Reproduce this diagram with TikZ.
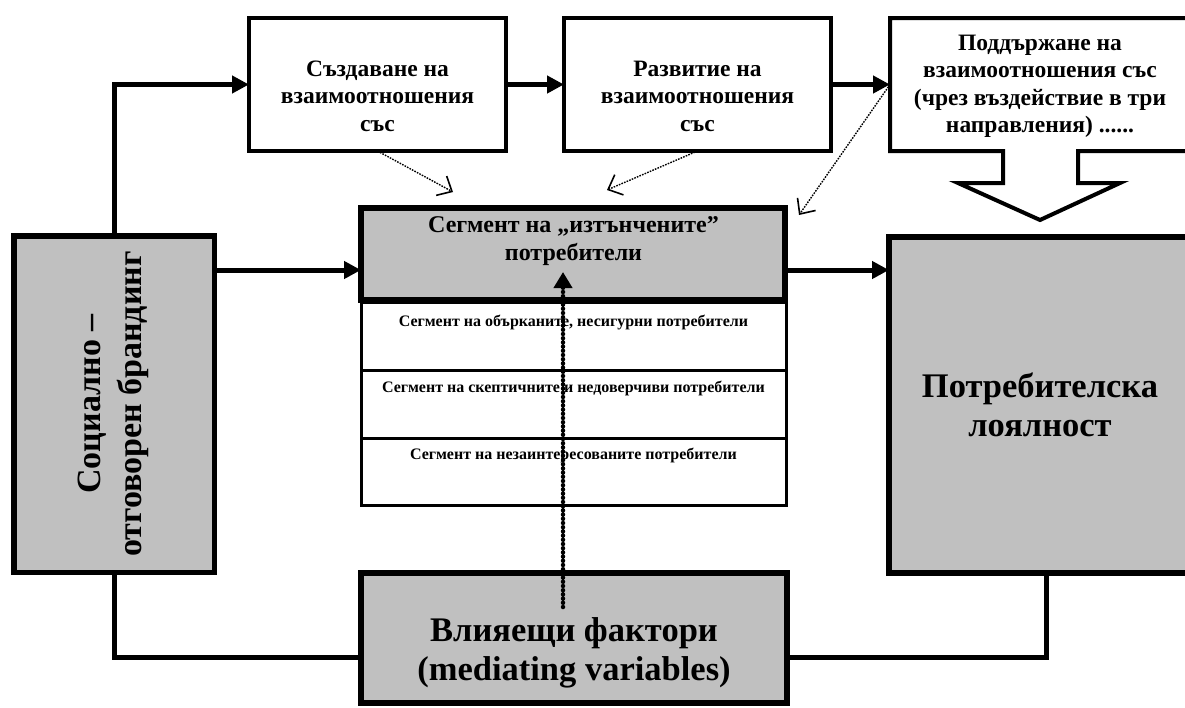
\documentclass[tikz,border=0pt]{standalone}
\usepackage{fontspec}
\setmainfont{Liberation Serif}
\usetikzlibrary{arrows.meta}
\definecolor{boxgray}{HTML}{C0C0C0}
\begin{document}
\begin{tikzpicture}[x=1pt,y=-1pt,
  every node/.style={inner sep=0pt, outer sep=0pt},
  topbox/.style={draw, line width=4pt, fill=white, minimum height=133pt},
  graybox/.style={draw, line width=5.5pt, fill=boxgray},
  rowbox/.style={draw, line width=3pt, fill=white, minimum width=425pt},
  toptext/.style={align=center, font=\bfseries\fontsize{23.5}{27.5}\selectfont},
  segtext/.style={align=center, font=\bfseries\fontsize{24}{28}\selectfont},
  rowtext/.style={font=\bfseries\fontsize{16}{18}\selectfont},
  bigtext/.style={align=center, font=\bfseries\fontsize{34.5}{39}\selectfont},
  conn/.style={line width=5pt, -{Triangle[length=17pt,width=17pt]}},
  plainconn/.style={line width=5pt},
  thindot/.style={line width=1.4pt, dash pattern=on 1.6pt off 1.2pt, -{Straight Barb[length=12pt,width=22pt,line width=1.6pt]}},
  thickdot/.style={line width=4.5pt, line cap=round, dash pattern=on 0pt off 4.2pt, -{Triangle[length=16pt,width=18pt]}}
]
\path[use as bounding box] (0,0) rectangle (1185,707);
\clip (0,0) rectangle (1185,707);

% top row
\node[topbox, minimum width=257pt] (b1) at (377.5,84.5) {};
\node[toptext] (b1t) at (377.5,96) {Създаване на\\взаимоотношения\\със};
\node[topbox, minimum width=267pt] (b2) at (697.5,84.5) {};
\node[toptext] (b2t) at (697.5,96) {Развитие на\\взаимоотношения\\със};
\node[topbox, draw=none, fill=none, minimum width=300pt] (b3) at (1040,84.5) {};
\node[toptext] (b3t) at (1040,86.5)
  {Поддържане на\\взаимоотношения със\\(чрез въздействие в три\\направления) ......};
\draw[line width=4pt, line join=miter] (1003,151) -- (b3.south west) -- (b3.north west)
  -- (b3.north east) -- (b3.south east) -- (1078,151) -- (1078,183) -- (1120,183)
  -- (1040,220) -- (958,183) -- (1003,183) -- cycle;

% segment rows
\node[rowbox, minimum height=68pt] (r1) at (573.5,336) {};
\node[rowbox, minimum height=68pt] (r2) at (573.5,404) {};
\node[rowbox, minimum height=67pt] (r3) at (573.5,471.5) {};
\node[rowtext] (r1t) at (573.5,322) {Сегмент на обърканите, несигурни потребители};
\node[rowtext] (r2t) at (573.5,388) {Сегмент на скептичните и недоверчиви потребители};
\node[rowtext] (r3t) at (573.5,455) {Сегмент на незаинтересованите потребители};

% gray boxes
\node[graybox, minimum width=424pt, minimum height=92pt] (seg) at (573,254) {};
\node[segtext] (segt) at (573.5,241) {Сегмент на „изтънчените”\\потребители};
\node[graybox, minimum width=200.5pt, minimum height=336.5pt] (left) at (114,404) {};
\node[rotate=90, align=center, font=\bfseries\fontsize{34}{41}\selectfont] (leftt) at (113,404) {Социално –\\отговорен брандинг};
\node[graybox, bigtext, minimum width=302pt, minimum height=336pt] (right) at (1040,405) {Потребителска\\лоялност};
\node[graybox, minimum width=426pt, minimum height=130pt] (bot) at (574,638) {};
\node[align=center, font=\bfseries\fontsize{34.5}{38.5}\selectfont] (bott) at (574,653) {Влияещи фактори\\(mediating variables)};

% connectors
\coordinate (midy) at (0,270);
\coordinate (loopy) at (0,657);
\draw[conn] (left.north) |- (b1.west);
\draw[conn] (b1.east) -- (b2.west);
\draw[conn] (b2.east) -- (b3.west);
\draw[conn] (left.east |- midy) -- (seg.west |- midy);
\draw[conn] (seg.east |- midy) -- (right.west |- midy);
\draw[plainconn] (left.south) |- (bot.west |- loopy);
\draw[plainconn] (bot.east |- loopy) -| ([xshift=6pt]right.south);

% dotted arrows
\coordinate (t1) at (453,192);
\coordinate (t2) at (607,190);
\coordinate (t3) at (799,215);
\draw[thindot] (b1.south) -- (t1);
\draw[thindot] (b2.south) -- (t2);
\draw[thindot] (b3.west) -- (t3);
\coordinate (dotstart) at (563,607);
\coordinate (dotend) at (563,272);
\draw[thickdot] (dotstart) -- (dotend);
\end{tikzpicture}
\end{document}
